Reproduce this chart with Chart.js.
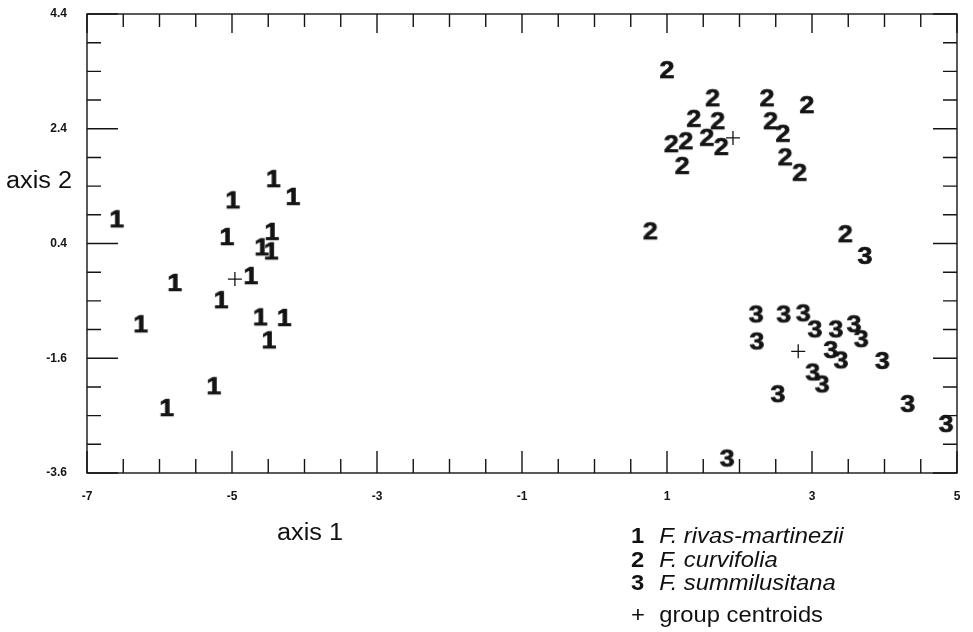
<!DOCTYPE html>
<html>
<head>
<meta charset="utf-8">
<script src="https://cdn.jsdelivr.net/npm/chart.js@4.4.0/dist/chart.umd.min.js"></script>
<style>
  html,body{margin:0;padding:0;background:#fff;}
  #wrap{position:relative;width:973px;height:632px;overflow:hidden;}
  #chart{position:absolute;left:0;top:0;}
  .lbl{position:absolute;font-family:"Liberation Sans",Arial,sans-serif;color:#111;white-space:nowrap;line-height:1;transform-origin:0 0;}
  .axis{font-size:23px;transform:scaleX(1.1);}
  .leg{font-size:22px;left:631px;transform:scaleX(1.08);}
  .leg b{display:inline-block;width:20px;}
  .leg i{font-style:italic;}
</style>
</head>
<body>
<div id="wrap">
  <canvas id="chart" width="973" height="632"></canvas>
  <div class="lbl axis" style="left:6px;top:169px">axis 2</div>
  <div class="lbl axis" style="left:277px;top:521px">axis 1</div>
  <div class="lbl leg" style="top:525px"><b>1</b> <i>F. rivas-martinezii</i></div>
  <div class="lbl leg" style="top:549px"><b>2</b> <i>F. curvifolia</i></div>
  <div class="lbl leg" style="top:572px"><b>3</b> <i>F. summilusitana</i></div>
  <div class="lbl leg" style="top:604px"><span style="display:inline-block;width:20px">+</span> group centroids</div>
</div>
<script>
/* ======== DATA ======== */
// 1 F. rivas-martinezii
const group1X = [-6.59, -4.99, -4.43, -4.16, -5.07, -4.45, -4.59, -4.46, -5.79, -4.74, -5.15, -6.26, -4.61, -4.28, -4.49, -5.25, -5.90];
const group1Y = [ 0.84,  1.17,  1.54,  1.23,  0.53,  0.62,  0.35,  0.28, -0.27, -0.15, -0.57, -0.99, -0.87, -0.88, -1.27, -2.07, -2.45];
// 2 F. curvifolia
const group2X = [1.00, 1.63, 2.38, 2.93, 1.37, 1.70, 2.43, 1.06, 1.26, 1.55, 1.75, 2.60, 1.21, 2.63, 2.83, 0.77, 3.46];
const group2Y = [3.44, 2.95, 2.95, 2.83, 2.59, 2.55, 2.55, 2.15, 2.20, 2.26, 2.10, 2.33, 1.77, 1.92, 1.65, 0.63, 0.58];
// 3 F. summilusitana
const group3X = [3.73,  2.23,  2.61,  2.88,  3.04,  3.33,  3.58,  3.68,  2.24,  3.26,  3.40,  3.97,  3.01,  3.14,  2.53,  4.32,  4.85,  1.83];
const group3Y = [0.20, -0.82, -0.82, -0.80, -1.08, -1.08, -0.99, -1.25, -1.29, -1.44, -1.62, -1.63, -1.83, -2.04, -2.21, -2.38, -2.73, -3.33];
// group centroids
const centroidX = [-4.96, 1.91,  2.81];
const centroidY = [-0.22, 2.24, -1.48];

// axes
const xRange = [-7, 5];
const yRange = [-3.6, 4.4];
const xTickLabels = [-7, -5, -3, -1, 1, 3, 5];
const yTickLabels = ['-3.6', '-1.6', '0.4', '2.4', '4.4'];
const minorStep = 0.5;

/* ======== HELPERS ======== */
const INK = '#141414';
const FONT = '"Liberation Sans", Arial, sans-serif';

function zip(xs, ys){ return xs.map((x,i)=>({x, y: ys[i]})); }

function tickValues(min, max){
  const out = [];
  for(let v = min; v <= max + 1e-9; v += minorStep) out.push(Math.round(v*100)/100);
  return out;
}
function isMajor(v, labels){ return labels.some(l => Math.abs(Number(l) - v) < 1e-6); }

// digit glyph used as a point marker (a thin stroke makes it as heavy as the scan)
function glyph(ch){
  const c = document.createElement('canvas');
  c.width = 26; c.height = 30;
  const g = c.getContext('2d');
  g.fillStyle = INK;
  g.strokeStyle = INK;
  g.lineWidth = 0.7;
  g.lineJoin = 'round';
  g.font = 'bold 24px ' + FONT;
  g.textAlign = 'center';
  g.textBaseline = 'alphabetic';
  g.translate(13, 15 + 8.6);
  g.scale(1.12, 1);
  g.fillText(ch, 0, 0);
  g.strokeText(ch, 0, 0);
  return c;
}

const xTicks = tickValues(xRange[0], xRange[1]);
const yTicks = tickValues(yRange[0], yRange[1]);

/* ======== FRAME + INWARD TICKS ======== */
const frameTicks = {
  id: 'frameTicks',
  beforeDatasetsDraw(chart){
    const {ctx, chartArea: a, scales} = chart;
    ctx.save();
    ctx.strokeStyle = INK;
    ctx.lineWidth = 1.4;
    ctx.strokeRect(a.left, a.top, a.right - a.left, a.bottom - a.top);
    ctx.beginPath();
    xTicks.forEach(v=>{
      const px = scales.x.getPixelForValue(v);
      const maj = isMajor(v, xTickLabels);
      ctx.moveTo(px, a.bottom); ctx.lineTo(px, a.bottom - (maj ? 22 : 14));
      ctx.moveTo(px, a.top);    ctx.lineTo(px, a.top + (maj ? 19 : 13));
    });
    yTicks.forEach(v=>{
      const py = scales.y.getPixelForValue(v);
      const maj = isMajor(v, yTickLabels);
      ctx.moveTo(a.left, py);  ctx.lineTo(a.left + (maj ? 31 : 14), py);
      ctx.moveTo(a.right, py); ctx.lineTo(a.right - (maj ? 24 : 14), py);
    });
    ctx.stroke();
    ctx.restore();
  }
};

/* ======== CHART ======== */
const tickFont = {family: FONT, size: 12, weight: 'bold'};

new Chart(document.getElementById('chart'), {
  type: 'scatter',
  data: {
    datasets: [
      {label:'1', data: zip(group1X, group1Y), pointStyle: glyph('1'), clip: false},
      {label:'2', data: zip(group2X, group2Y), pointStyle: glyph('2'), clip: false},
      {label:'3', data: zip(group3X, group3Y), pointStyle: glyph('3'), clip: false},
      {label:'+', data: zip(centroidX, centroidY), pointStyle: 'cross', pointRadius: 7,
       borderColor: INK, borderWidth: 1.3, clip: false}
    ]
  },
  options: {
    responsive: false,
    animation: false,
    devicePixelRatio: 1,
    layout: {padding: {top: 14, right: 16, left: 0, bottom: 0}},
    plugins: {legend: {display: false}, tooltip: {enabled: false}},
    scales: {
      x: {
        type: 'linear', min: xRange[0], max: xRange[1],
        afterBuildTicks: s => { s.ticks = xTicks.map(v => ({value: v})); },
        afterFit: s => { s.height = 159; s.paddingLeft = 0; s.paddingRight = 0; },
        grid: {display: false, drawTicks: false},
        border: {display: false},
        ticks: {autoSkip: false, maxRotation: 0, padding: 16, color: INK, font: tickFont,
          callback: v => isMajor(v, xTickLabels) ? String(v) : ''}
      },
      y: {
        type: 'linear', min: yRange[0], max: yRange[1],
        afterBuildTicks: s => { s.ticks = yTicks.map(v => ({value: v})); },
        afterFit: s => { s.width = 87; s.paddingTop = 0; s.paddingBottom = 0; },
        grid: {display: false, drawTicks: false},
        border: {display: false},
        ticks: {autoSkip: false, padding: 20, color: INK, font: tickFont,
          callback: v => { const i = yTickLabels.findIndex(l => Math.abs(Number(l) - v) < 1e-6); return i < 0 ? '' : yTickLabels[i]; }}
      }
    }
  },
  plugins: [frameTicks]
});
</script>
</body>
</html>
